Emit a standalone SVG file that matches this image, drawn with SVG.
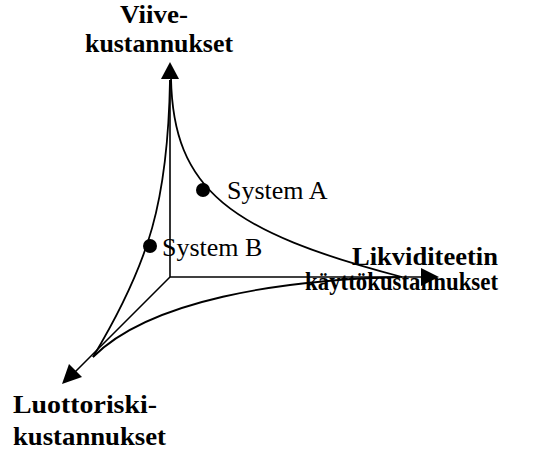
<svg xmlns="http://www.w3.org/2000/svg" width="543" height="451" viewBox="0 0 543 451">
<style>
.ax{fill:none;stroke:#000;stroke-width:1.6}
.cv{fill:none;stroke:#000;stroke-width:1.8}
.lb{font-family:"Liberation Serif","Times New Roman",serif;font-weight:bold;font-size:25px;fill:#000}
.sl{font-family:"Liberation Serif","Times New Roman",serif;font-size:26px;fill:#000}
</style>
<g id="connectors">
<path class="ax" d="M170,277 L170,80"/>
<polygon points="170,62 161,79 179,79" fill="#000"/>
<path class="ax" d="M170,277 L422,277"/>
<polygon points="439,277 421,268 421,286" fill="#000"/>
<path class="ax" d="M170,277 L74,373"/>
<polygon points="62,384 69,364 82,377" fill="#000"/>
<path class="cv" d="M171,78 C173,190 230,232 402,277"/>
<path class="cv" d="M170,80 C168,200 150,262 93,357"/>
<path class="cv" d="M400,277 C280,280 150,300 93,357"/>
</g>
<g id="systemA">
<circle cx="203" cy="190" r="7"/>
<text class="sl" x="227" y="199">System A</text>
</g>
<g id="systemB">
<circle cx="150" cy="246" r="7"/>
<text class="sl" x="162" y="256">System B</text>
</g>
<g id="viive">
<text class="lb" x="120" y="23" textLength="68" lengthAdjust="spacingAndGlyphs">Viive-</text>
<text class="lb" x="85" y="52" textLength="148" lengthAdjust="spacingAndGlyphs">kustannukset</text>
</g>
<g id="likviditeetti">
<text class="lb" x="352" y="265" textLength="146" lengthAdjust="spacingAndGlyphs">Likviditeetin</text>
<text class="lb" x="305" y="290" textLength="193" lengthAdjust="spacingAndGlyphs">käyttökustannukset</text>
</g>
<g id="luottoriski">
<text class="lb" x="13" y="413" textLength="144" lengthAdjust="spacingAndGlyphs">Luottoriski-</text>
<text class="lb" x="13" y="445" textLength="153" lengthAdjust="spacingAndGlyphs">kustannukset</text>
</g>
</svg>
